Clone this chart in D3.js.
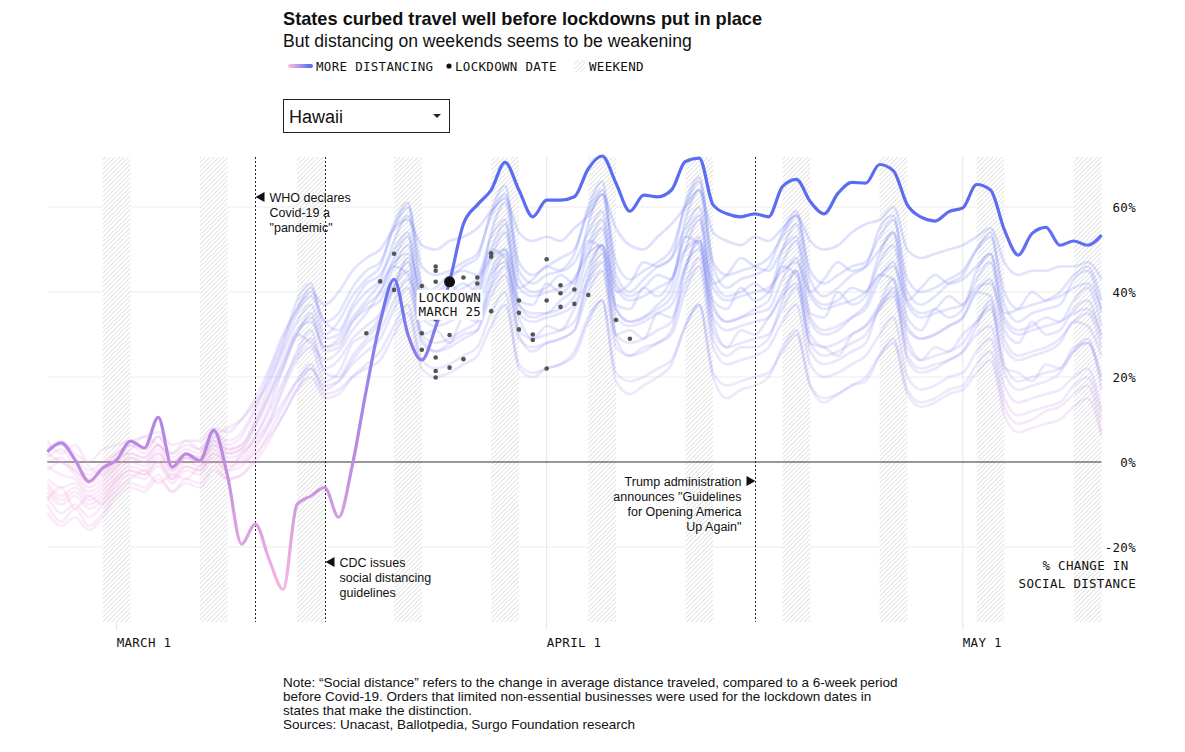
<!DOCTYPE html>
<html>
<head>
<meta charset="utf-8">
<script src="https://cdnjs.cloudflare.com/ajax/libs/d3/7.8.5/d3.min.js"></script>
<style>
  body { margin: 0; background: #fff; }
  text { font-family: "Liberation Sans", Arial, Helvetica, sans-serif; fill: #111; }
  .mono { font-family: "DejaVu Sans Mono", "Liberation Mono", monospace; font-size: 12.5px; letter-spacing: 0.3px; }
</style>
</head>
<body>
<svg id="chart" width="1185" height="752"></svg>
<script>
// ---- data (daily, Feb 25 -> May 11 2020) ----
let firstDay = '2020-02-25';
let lastDay = '2020-05-11';

let hawaii = [2.4, 4.5, 0.5, -4.6, -1.4, 0.5, 4.9, 3.3, 10.5, -1.2, 1.9, 0.3, 7.5, -3.4,
  -19.3, -14.6, -23, -30, -10, -8, -6, -13, -0.6, 17, 33, 43, 30,
  24, 31.8, 42.4, 56, 60.5, 64, 70.5, 64, 57.7, 61.6, 61.6, 62.4, 69, 72, 65.6,
  59, 62.8, 62.4, 64, 70.7, 71.5, 60.5, 58.4, 57.7, 58.4, 57.7, 64.8, 66.5, 61.3,
  58.4, 63.2, 65.8, 65.6, 70, 68.5, 60.5, 57.6, 56.7, 58.9, 59.8, 65.3, 64, 54.6,
  48.7, 53.8, 55.2, 51, 52, 51, 53.4];

// other states (faint lines)
let stateA = [3,5,2,0,3,4,5,6,7,4,5,5,8,7, 10,15,22,30,36,40,37,40,45,48,50,55,57,
  51,50,52,53,55,59,62, 54,52,53,52,55,58,63, 55,51,50,53,56,60,64, 54,52,51,53,52,55,58,
  52,50,51,54,56,57,60, 50,48,49,50,51,53,55, 47,44,45,45,46,46,47,43];
let stateB = [1,3,-1,-3,-1,2,4,2,6,1,3,2,7,4, 6,12,20,28,38,42,30,33,39,43,46,56,61,
  42,40,43,46,48,59,65, 45,42,44,45,49,60,66, 44,40,43,46,48,61,67, 46,41,43,44,46,54,59,
  43,39,41,44,46,55,58, 40,37,39,42,44,50,54, 37,33,35,36,37,43,45,35];
let stateC = [-2,0,-3,-6,-4,-1,1,0,3,-2,1,0,5,2, 3,9,16,23,30,34,26,27,33,37,40,48,53,
  36,38,42,39,41,50,56, 38,37,42,40,43,51,57, 37,36,41,39,43,53,58, 38,36,41,38,40,47,52,
  35,34,40,37,39,47,51, 34,31,36,34,36,43,47, 31,28,33,30,31,36,38,29];
let stateD = [-5,-8,-6,-9,-7,-3,-1,-2,1,-3,0,-1,3,0, 1,6,13,22,30,28,24,26,31,35,40,46,44,
  36,34,35,38,42,50,48, 37,35,35,38,41,52,50, 36,33,34,37,41,53,51, 36,33,34,36,38,46,44,
  33,30,31,34,37,44,43, 31,29,30,32,34,40,39, 27,24,25,26,28,33,32,25];
let stateE = [2,0,-2,-5,-3,0,2,1,4,0,2,1,6,3, 4,10,18,26,33,37,29,30,36,40,43,52,58,
  41,39,40,42,40,54,61, 43,40,41,44,42,56,63, 42,39,41,44,43,57,64, 43,39,40,42,40,50,56,
  40,37,38,41,40,49,54, 38,35,36,39,37,45,49, 34,31,32,34,33,38,41,32];
let stateF = [-8,-12,-10,-13,-10,-5,-3,-4,-1,-5,-2,-3,1,-2, -1,3,9,17,24,27,19,21,28,30,34,41,45,
  30,31,28,34,33,44,47, 34,29,32,31,36,43,49, 30,31,29,35,34,46,50, 33,27,31,30,34,39,42,
  28,27,25,30,32,36,41, 29,24,27,26,30,33,37, 22,21,19,23,22,27,28,19];
let stateG = [-10,-14,-11,-15,-12,-7,-5,-6,-3,-7,-4,-5,-1,-4, -3,1,7,13,19,23,17,19,23,26,29,36,41,
  28,26,27,29,31,39,44, 29,27,28,29,31,40,45, 27,25,26,28,30,40,46, 27,23,24,25,27,33,37,
  23,20,21,23,25,30,34, 20,17,18,20,21,26,29, 15,11,12,13,14,18,20,10];
let stateH = [-6,-9,-7,-10,-8,-4,-2,-3,0,-4,-1,-2,2,-1, 0,4,9,14,19,22,16,17,20,23,26,32,37,
  24,22,23,25,27,35,40, 22,20,22,23,26,34,38, 19,16,18,20,23,32,37, 20,15,17,18,20,27,31,
  18,14,16,18,19,25,29, 17,14,15,17,18,23,26, 13,9,10,12,13,16,18,7];
let stateI = [0,1,-2,-4,-2,1,2,1,4,0,2,1,5,3, 4,9,16,24,31,33,27,29,34,38,42,47,49,
  40,38,39,41,43,48,50, 41,39,40,41,43,49,51, 41,38,39,41,43,50,52, 41,38,39,40,41,45,47,
  39,36,37,38,40,44,46, 37,34,35,36,37,41,42, 33,30,31,32,33,35,36,30];
let stateJ = [3,4,1,-2,0,2,4,3,6,2,4,3,7,5, 7,13,21,29,36,41,33,35,41,45,47,55,60,
  46,44,45,47,49,58,63, 47,44,46,48,50,59,64, 47,43,45,47,50,60,66, 47,44,45,46,48,53,58,
  45,42,44,46,47,53,57, 43,40,41,43,45,50,53, 40,36,37,38,40,44,46,38];
let stateK = [-4,-6,-5,-8,-6,-2,0,-1,2,-2,1,0,4,1, 2,6,12,19,25,29,22,24,29,32,35,42,47,
  34,32,33,35,37,45,50, 35,33,34,35,37,46,51, 34,32,33,35,37,46,52, 34,31,32,33,34,40,45,
  30,27,28,30,32,37,40, 25,22,23,24,26,30,32, 18,14,15,16,17,20,22,12];
let stateL = [-7,-10,-8,-11,-9,-4,-2,-3,0,-4,-1,-2,2,0, 0,2,6,11,17,22,18,19,24,28,31,38,43,
  30,28,29,31,33,41,46, 31,29,30,31,33,42,47, 30,28,29,31,33,42,48, 31,27,28,29,30,36,41,
  28,25,26,28,30,36,39, 27,24,25,26,28,33,36, 23,19,20,21,22,26,28,20];
let stateM = [-1,-3,-4,-7,-5,-1,1,0,2,-1,1,0,4,2, 3,8,15,22,30,35,27,28,33,36,38,46,51,
  36,33,35,37,39,48,54, 37,34,35,36,39,49,55, 36,33,34,36,39,50,57, 37,33,34,35,36,43,48,
  34,31,32,34,36,43,47, 32,29,30,32,34,40,43, 29,25,26,27,29,33,35,27];
let stateN = [-12,-15,-13,-16,-13,-8,-6,-7,-4,-7,-5,-6,-2,-4, -3,0,5,11,17,20,15,16,20,22,24,30,35,
  22,20,21,23,25,32,37, 23,21,22,23,25,33,38, 21,19,20,22,24,32,37, 21,18,19,20,21,26,30,
  18,15,16,18,20,25,28, 16,13,14,16,17,21,24, 11,7,8,9,10,13,15,6];
let stateO = [5,2,4,-1,-3,1,3,6,4,2,5,3,6,8, 10,14,19,27,35,39,33,31,37,42,44,50,54,
  39,41,44,45,44,53,57, 41,43,46,45,47,54,59, 40,42,47,46,48,55,60, 42,44,48,46,45,50,53,
  40,43,47,45,46,50,54, 38,41,44,42,43,46,49, 35,36,40,38,39,41,42,36];
let stateP = [-9,-6,-11,-8,-10,-6,-4,-2,-5,-3,-4,-1,0,-2, 2,5,10,18,26,31,21,20,25,29,33,41,48,
  29,26,28,30,31,42,49, 30,26,28,29,31,44,51, 29,25,27,28,31,45,53, 29,25,27,27,29,38,45,
  26,23,24,26,28,37,43, 24,21,22,24,26,32,38, 21,17,18,19,21,26,29,17];
let otherStates = [stateA, stateB, stateC, stateD, stateE, stateF, stateG, stateH,
  stateI, stateJ, stateK, stateL, stateM, stateN, stateO, stateP];

// lockdown dates of other states and their value on that day
let lockdownDays = ['2020-03-19','2020-03-20','2020-03-21','2020-03-21','2020-03-23','2020-03-23','2020-03-23',
  '2020-03-24','2020-03-24','2020-03-24','2020-03-24','2020-03-24','2020-03-24','2020-03-24',
  '2020-03-25','2020-03-25','2020-03-26','2020-03-26','2020-03-27','2020-03-27',
  '2020-03-28','2020-03-28','2020-03-28','2020-03-30','2020-03-30','2020-03-30','2020-03-31','2020-03-31',
  '2020-04-01','2020-04-01','2020-04-01','2020-04-02','2020-04-02','2020-04-02','2020-04-03','2020-04-03',
  '2020-04-04','2020-04-06','2020-04-07'];
let lockdownValues = [30.3, 42.5, 49, 40.5, 41.4, 30.3, 26.4,
  46, 45, 42.4, 33.6, 24.6, 21.4, 19.9,
  29.9, 22.2, 43.4, 24.2, 43.4, 42,
  49.1, 48.3, 35.5, 38, 35.1, 31.2, 30, 28.7,
  47.7, 38, 22, 41.6, 39.7, 36.5, 40.6, 37.2,
  39.3, 33.4, 29];
let hawaiiLockdownDay = '2020-03-25';

let weekendStarts = ['2020-02-29','2020-03-07','2020-03-14','2020-03-21','2020-03-28',
  '2020-04-04','2020-04-11','2020-04-18','2020-04-25','2020-05-02','2020-05-09'];
let yTicks = [60, 40, 20, 0, -20];
let monthTicks = ['2020-03-01', '2020-04-01', '2020-05-01'];
let monthLabels = ['MARCH 1', 'APRIL 1', 'MAY 1'];

// ---- setup ----
let svg = d3.select('#chart');
let parseDay = d3.utcParse('%Y-%m-%d');
let start = parseDay(firstDay);
let dayOf = i => d3.utcDay.offset(start, i);

let plotTop = 157, plotBottom = 622;
let x = d3.scaleUtc()
  .domain([start, parseDay(lastDay)])
  .range([47.3, 1101.5]);
let y = d3.scaleLinear()
  .domain([-20, 60])
  .range([547, 207]);

let defs = svg.append('defs');

// hatch for weekends
let hatch = defs.append('pattern')
  .attr('id', 'hatch')
  .attr('patternUnits', 'userSpaceOnUse')
  .attr('width', 3.2).attr('height', 3.2)
  .attr('patternTransform', 'rotate(45)');
hatch.append('rect').attr('width', 3.2).attr('height', 3.2).attr('fill', '#fff');
hatch.append('line').attr('x1', 0).attr('y1', 0).attr('x2', 0).attr('y2', 3.2)
  .attr('stroke', '#c9c9c9').attr('stroke-width', 1);

// colour runs by value: pink (less distancing) -> blue (more)
function valueGradient(id, stops) {
  let g = defs.append('linearGradient')
    .attr('id', id)
    .attr('gradientUnits', 'userSpaceOnUse')
    .attr('x1', 0).attr('x2', 0)
    .attr('y1', y(-30)).attr('y2', y(60));
  stops.forEach(s => g.append('stop').attr('offset', (s[0] + 30) / 90).attr('stop-color', s[1]));
}
valueGradient('valueGrad', [[-30, '#f6b7e3'], [0, '#c08be0'], [20, '#9a84ea'], [40, '#6c74ee'], [60, '#5a6cf0']]);
valueGradient('faintGrad', [[-30, '#f3a3da'], [0, '#eaa2e0'], [20, '#a994ef'], [40, '#7680f1'], [60, '#5a6cf0']]);

let legendGrad = defs.append('linearGradient').attr('id', 'legendGrad')
  .attr('gradientUnits', 'userSpaceOnUse')
  .attr('x1', 290).attr('x2', 311).attr('y1', 0).attr('y2', 0);
legendGrad.append('stop').attr('offset', 0).attr('stop-color', '#f6b7e3');
legendGrad.append('stop').attr('offset', 1).attr('stop-color', '#5a6cf0');

// ---- titles ----
svg.append('text').attr('x', 283).attr('y', 25)
  .style('font-size', '18.2px').style('font-weight', 'bold')
  .text('States curbed travel well before lockdowns put in place');
svg.append('text').attr('x', 283).attr('y', 47)
  .style('font-size', '17.6px')
  .text('But distancing on weekends seems to be weakening');

// legend
let legend = svg.append('g');
legend.append('line').attr('x1', 290).attr('x2', 311).attr('y1', 66).attr('y2', 66)
  .attr('stroke', 'url(#legendGrad)').attr('stroke-width', 4).attr('stroke-linecap', 'round');
legend.append('text').attr('class', 'mono').attr('x', 316).attr('y', 70.5).text('MORE DISTANCING');
legend.append('circle').attr('cx', 449).attr('cy', 66).attr('r', 2.6).attr('fill', '#111');
legend.append('text').attr('class', 'mono').attr('x', 455).attr('y', 70.5).text('LOCKDOWN DATE');
legend.append('rect').attr('x', 574).attr('y', 60).attr('width', 11).attr('height', 12).attr('fill', 'url(#hatch)');
legend.append('text').attr('class', 'mono').attr('x', 589).attr('y', 70.5).text('WEEKEND');

// state picker (static)
let picker = svg.append('g');
picker.append('rect').attr('x', 283.5).attr('y', 99.5).attr('width', 166).attr('height', 33)
  .attr('fill', '#fff').attr('stroke', '#222');
picker.append('text').attr('x', 289).attr('y', 122.5).style('font-size', '18px').text('Hawaii');
picker.append('path').attr('d', 'M433,114L441,114L437,118Z').attr('fill', '#222');

// ---- grid ----
let grid = svg.append('g');
grid.selectAll('.hgrid')
  .data(yTicks.filter(t => t !== 0))
  .enter().append('line')
  .attr('x1', x.range()[0]).attr('x2', x.range()[1])
  .attr('y1', d => y(d)).attr('y2', d => y(d))
  .attr('stroke', '#ececec');
grid.selectAll('.vgrid')
  .data(monthTicks)
  .enter().append('line')
  .attr('x1', d => x(parseDay(d))).attr('x2', d => x(parseDay(d)))
  .attr('y1', plotTop).attr('y2', 630)
  .attr('stroke', '#e6e6e6');

// weekends
svg.append('g').selectAll('rect')
  .data(weekendStarts)
  .enter().append('rect')
  .attr('x', d => x(parseDay(d)))
  .attr('width', d => x(d3.utcDay.offset(parseDay(d), 2)) - x(parseDay(d)))
  .attr('y', plotTop).attr('height', plotBottom - plotTop)
  .attr('fill', 'url(#hatch)');

// zero line
svg.append('line')
  .attr('x1', x.range()[0]).attr('x2', x.range()[1])
  .attr('y1', y(0)).attr('y2', y(0))
  .attr('stroke', '#333').attr('stroke-width', 1.2);

// events
let events = [
  { day: '2020-03-11', side: 'right', ty: 197, lines: ['WHO declares', 'Covid-19 a', '"pandemic"'] },
  { day: '2020-03-16', side: 'right', ty: 562, lines: ['CDC issues', 'social distancing', 'guidelines'] },
  { day: '2020-04-16', side: 'left', ty: 481, lines: ['Trump administration', 'announces "Guidelines', 'for Opening America', 'Up Again"'] }
];
let eventG = svg.append('g');
events.forEach(ev => {
  let ex = Math.round(x(parseDay(ev.day))) + 0.5;
  eventG.append('line').attr('x1', ex).attr('x2', ex).attr('y1', plotTop).attr('y2', plotBottom)
    .attr('stroke', '#222').attr('stroke-dasharray', '2,2');
  let dir = ev.side === 'right' ? 1 : -1;
  eventG.append('path')
    .attr('d', `M${ex},${ev.ty}L${ex + dir * 9},${ev.ty - 5}L${ex + dir * 9},${ev.ty + 5}Z`)
    .attr('fill', '#111');
  let t = eventG.append('text')
    .attr('text-anchor', ev.side === 'right' ? 'start' : 'end')
    .style('font-size', '12.5px');
  ev.lines.forEach((l, i) => {
    t.append('tspan').attr('x', ex + dir * 14).attr('y', ev.ty + 4.5 + i * 15.2).text(l);
  });
});

// ---- lines ----
let line = d3.line()
  .x((d, i) => x(dayOf(i)))
  .y(d => y(d))
  .curve(d3.curveMonotoneX);

svg.append('g').selectAll('path')
  .data(otherStates)
  .enter().append('path')
  .attr('d', line)
  .attr('fill', 'none')
  .attr('stroke', 'url(#faintGrad)')
  .attr('stroke-width', 2.7)
  .attr('stroke-opacity', 0.21);

svg.append('path')
  .datum(hawaii)
  .attr('d', line)
  .attr('fill', 'none')
  .attr('stroke', 'url(#valueGrad)')
  .attr('stroke-width', 3.2);

// lockdown dots
svg.append('g').selectAll('circle')
  .data(lockdownDays)
  .enter().append('circle')
  .attr('cx', d => x(parseDay(d)))
  .attr('cy', (d, i) => y(lockdownValues[i]))
  .attr('r', 2.3)
  .attr('fill', '#555');

let hIdx = d3.utcDay.count(start, parseDay(hawaiiLockdownDay));
let hx = x(parseDay(hawaiiLockdownDay)), hy = y(hawaii[hIdx]);
svg.append('rect').attr('x', hx - 33).attr('y', hy + 8).attr('width', 66).attr('height', 30).attr('fill', '#fff');
svg.append('circle').attr('cx', hx).attr('cy', hy).attr('r', 5.5).attr('fill', '#111');
let lk = svg.append('text').attr('class', 'mono');
lk.append('tspan').attr('x', hx - 31).attr('y', hy + 20).text('LOCKDOWN');
lk.append('tspan').attr('x', hx - 31).attr('y', hy + 34.5).text('MARCH 25');

// ---- axes labels ----
svg.append('g').selectAll('text')
  .data(yTicks)
  .enter().append('text')
  .attr('class', 'mono')
  .attr('text-anchor', 'end')
  .attr('x', 1136)
  .attr('y', d => y(d) + 4.5)
  .text(d => d + '%');

svg.append('text').attr('class', 'mono').attr('text-anchor', 'end')
  .attr('x', 1128.5).attr('y', 569.5).text('% CHANGE IN');
svg.append('text').attr('class', 'mono').attr('text-anchor', 'end')
  .attr('x', 1136).attr('y', 587.5).text('SOCIAL DISTANCE');

svg.append('g').selectAll('text')
  .data(monthTicks)
  .enter().append('text')
  .attr('class', 'mono')
  .attr('x', d => x(parseDay(d)))
  .attr('y', 646.5)
  .text((d, i) => monthLabels[i]);

// ---- note ----
let noteLines = [
  'Note: \u201cSocial distance\u201d refers to the change in average distance traveled, compared to a 6-week period',
  'before Covid-19. Orders that limited non-essential businesses were used for the lockdown dates in',
  'states that make the distinction.',
  'Sources: Unacast, Ballotpedia, Surgo Foundation research'
];
let note = svg.append('text').style('font-size', '13.5px');
noteLines.forEach((l, i) => {
  note.append('tspan').attr('x', 283).attr('y', 686.5 + i * 14.3).text(l);
});
</script>
</body>
</html>
